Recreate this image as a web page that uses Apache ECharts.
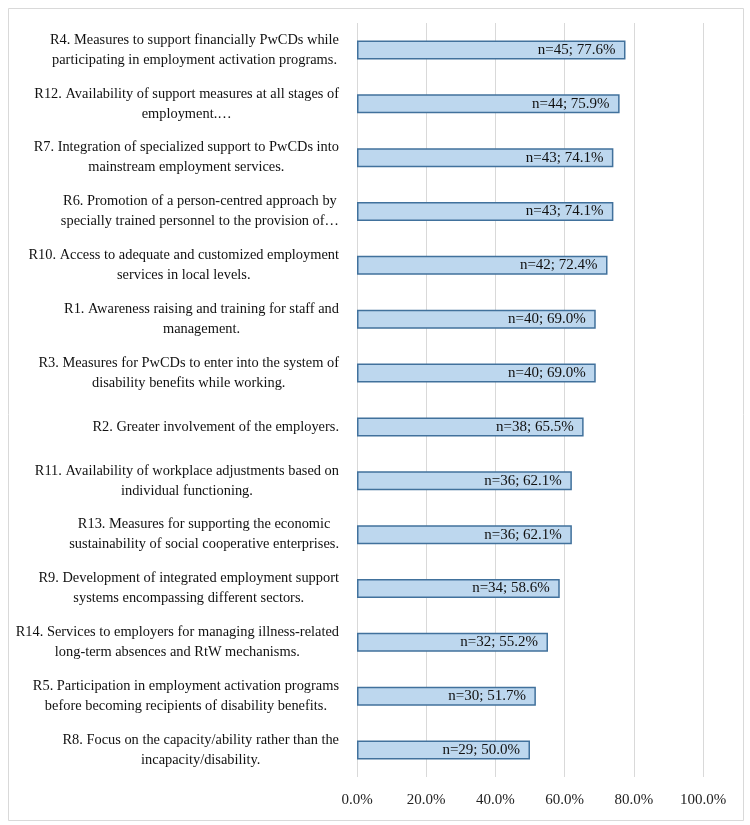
<!DOCTYPE html>
<html>
<head>
<meta charset="utf-8">
<script src="https://cdn.jsdelivr.net/npm/echarts@6/dist/echarts.min.js"></script>
<style>html,body{margin:0;padding:0;background:#fff}#c{width:750px;height:825px}</style>
</head>
<body>
<div id="c"></div>
<script>
const categories = [
  "R4. Measures to support financially PwCDs while\nparticipating in employment activation programs.",
  "R12. Availability of support measures at all stages of\nemployment.…",
  "R7. Integration of specialized support to PwCDs into\nmainstream employment services.",
  "R6. Promotion of a person-centred approach by\nspecially trained personnel to the provision of…",
  "R10. Access to adequate and customized employment\nservices in local levels.",
  "R1. Awareness raising and training for staff and\nmanagement.",
  "R3. Measures for PwCDs to enter into the system of\ndisability benefits while working.",
  "R2. Greater involvement of the employers.",
  "R11. Availability of workplace adjustments based on\nindividual functioning.",
  "R13. Measures for supporting the economic\nsustainability of social cooperative enterprises.",
  "R9. Development of integrated employment support\nsystems encompassing different sectors.",
  "R14. Services to employers for managing illness-related\nlong-term absences and RtW mechanisms.",
  "R5. Participation in employment activation programs\nbefore becoming recipients of disability benefits.",
  "R8. Focus on the capacity/ability rather than the\nincapacity/disability."
];
const counts = [45, 44, 43, 43, 42, 40, 40, 38, 36, 36, 34, 32, 30, 29];
const percents = [77.6, 75.9, 74.1, 74.1, 72.4, 69.0, 69.0, 65.5, 62.1, 62.1, 58.6, 55.2, 51.7, 50.0];
const xTicks = [0, 20, 40, 60, 80, 100];

const FONT = "'Liberation Serif', 'DejaVu Serif', serif";
const chart = echarts.init(document.getElementById('c'));
chart.setOption({
  animation: false,
  backgroundColor: '#fff',
  graphic: [{
    type: 'rect', left: 6, top: 6,
    shape: { width: 735, height: 812 },
    style: { fill: 'none', stroke: '#d9d9d9', lineWidth: 1 }, silent: true
  }],
  grid: { left: 357, right: 47, top: 23, bottom: 48, containLabel: false },
  xAxis: {
    type: 'value', min: xTicks[0], max: xTicks[xTicks.length - 1], interval: 20,
    axisLine: { show: false }, axisTick: { show: false },
    splitLine: { lineStyle: { color: '#d9d9d9', width: 1 } },
    axisLabel: {
      formatter: v => v.toFixed(1) + '%', color: '#222', fontFamily: FONT, fontSize: 15, margin: 16
    }
  },
  yAxis: {
    type: 'category', inverse: true, data: categories,
    axisLine: { show: false }, axisTick: { show: false },
    axisLabel: {
      margin: 18, color: '#111', fontFamily: FONT, fontSize: 14.4, lineHeight: 20,
      formatter: v => v.split('\n').map(s => '{a|' + s + '}').join('\n'),
      rich: { a: { align: 'center', fontFamily: FONT, fontSize: 14.4, lineHeight: 20, color: '#111' } }
    }
  },
  series: [{
    type: 'bar', barWidth: 19,
    data: percents,
    itemStyle: { color: '#bdd7ee', borderColor: '#41719c', borderWidth: 1.5 },
    label: {
      show: true, position: 'insideRight', distance: 10,
      formatter: p => 'n=' + counts[p.dataIndex] + '; ' + percents[p.dataIndex].toFixed(1) + '%',
      color: '#111', fontFamily: FONT, fontSize: 15
    }
  }]
});
</script>
</body>
</html>
